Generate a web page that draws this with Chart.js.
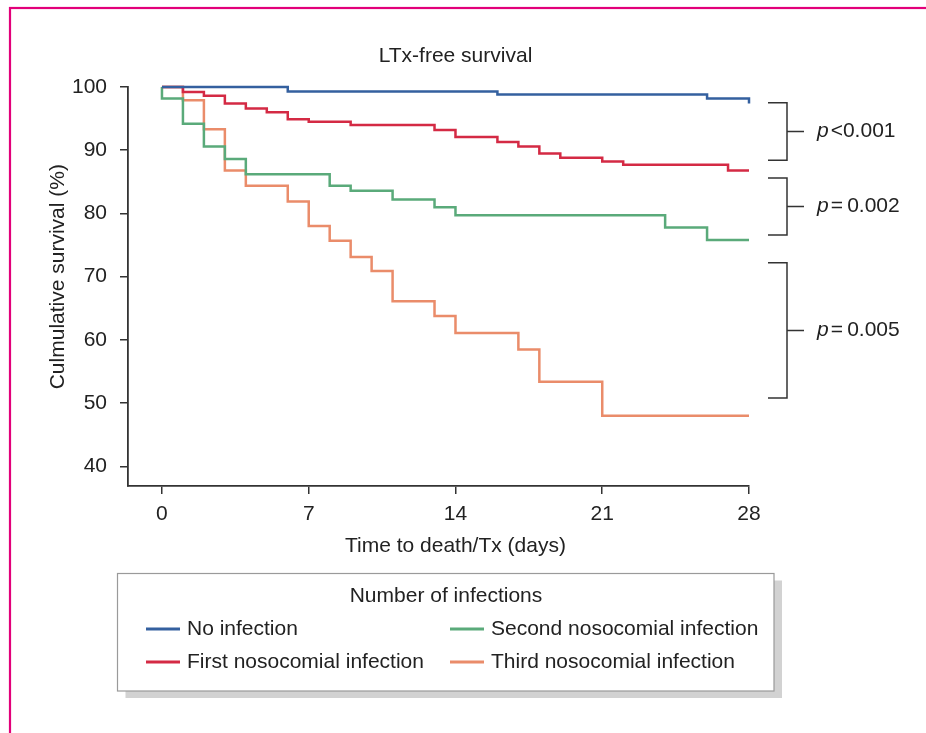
<!DOCTYPE html>
<html>
<head>
<meta charset="utf-8">
<script src="https://cdn.jsdelivr.net/npm/chart.js@4"></script>
<style>
  body { margin: 0; background: #fff; }
  canvas { display: block; }
</style>
</head>
<body>
<canvas id="myChart" width="926" height="733"></canvas>
<script>
// data (days, % survival)
const noInfDays = [0, 6, 16, 26, 28];
const noInfSurv = [100, 99.3, 98.8, 98.2, 97.4];

const firstDays = [0, 1, 2, 3, 4, 5, 6, 7, 9, 13, 14, 16, 17, 18, 19, 21, 22, 27, 28];
const firstSurv = [100, 99.2, 98.6, 97.4, 96.6, 96.0, 94.9, 94.5, 94.0, 93.2, 92.1, 91.3, 90.6, 89.5, 88.8, 88.2, 87.7, 86.8, 86.8];

const secondDays = [0, 0, 1, 2, 3, 4, 8, 9, 11, 13, 14, 24, 26, 28];
const secondSurv = [100, 98.2, 94.2, 90.6, 88.6, 86.2, 84.4, 83.6, 82.2, 81.0, 79.7, 77.8, 75.8, 75.8];

const thirdDays = [0, 1, 2, 3, 4, 6, 7, 8, 9, 10, 11, 13, 14, 17, 18, 21, 28];
const thirdSurv = [100, 97.9, 93.3, 86.8, 84.4, 81.9, 78.0, 75.7, 73.1, 70.9, 66.1, 63.8, 61.1, 58.5, 53.4, 48.0, 48.0];

const seriesNames = ['No infection', 'First nosocomial infection', 'Second nosocomial infection', 'Third nosocomial infection'];
const seriesColors = ['#34609f', '#d42a44', '#5aaa7a', '#ea8c6a'];

const xTicks = [0, 7, 14, 21, 28];
const yTicks = [40, 50, 60, 70, 80, 90, 100];

// p-value brackets: [top, bottom] in % and label
const bracketRanges = [[97.5, 88.4], [85.6, 76.6], [72.2, 50.8]];
const pLabels = ['<0.001', '=\u20090.002', '=\u20090.005'];

const FONT = "'Liberation Sans', Arial, Helvetica, sans-serif";
Chart.defaults.font.family = FONT;
Chart.defaults.color = '#222';

function toPoints(days, surv) {
    return days.map((d, i) => ({ x: d, y: surv[i] }));
}

const allDays = [noInfDays, firstDays, secondDays, thirdDays];
const allSurv = [noInfSurv, firstSurv, secondSurv, thirdSurv];

const datasets = seriesNames.map((name, i) => ({
    label: name,
    data: toPoints(allDays[i], allSurv[i]),
    borderColor: seriesColors[i],
    backgroundColor: seriesColors[i],
    borderWidth: 2.5,
    pointRadius: 0,
    stepped: 'before',
    fill: false,
    clip: false
}));

// all the extra drawing: titles, brackets, legend box, frame
const extras = {
    id: 'extras',
    afterDraw(chart) {
        const ctx = chart.ctx;
        const xs = chart.scales.x;
        const ys = chart.scales.y;
        const area = chart.chartArea;
        ctx.save();

        // pink frame
        ctx.strokeStyle = '#e2007a';
        ctx.lineWidth = 2.2;
        ctx.strokeRect(10, 8, 1000, 1000);

        ctx.fillStyle = '#222';
        ctx.textAlign = 'center';
        ctx.textBaseline = 'middle';
        const midX = (xs.getPixelForValue(0) + xs.getPixelForValue(28)) / 2;

        ctx.font = '21px ' + FONT;
        ctx.fillText('LTx-free survival', midX, 56);
        ctx.fillText('Time to death/Tx (days)', midX, 546);

        ctx.save();
        ctx.translate(58, (ys.getPixelForValue(40) + ys.getPixelForValue(100)) / 2);
        ctx.rotate(-Math.PI / 2);
        ctx.fillText('Culmulative survival (%)', 0, 0);
        ctx.restore();

        // brackets
        ctx.strokeStyle = '#333';
        ctx.lineWidth = 1.5;
        bracketRanges.forEach((r, i) => {
            const top = ys.getPixelForValue(r[0]);
            const bot = ys.getPixelForValue(r[1]);
            const mid = (top + bot) / 2;
            const x0 = area.right + 19;
            const x1 = area.right + 38;
            const x2 = area.right + 55;
            ctx.beginPath();
            ctx.moveTo(x0, top);
            ctx.lineTo(x1, top);
            ctx.lineTo(x1, bot);
            ctx.lineTo(x0, bot);
            ctx.moveTo(x1, mid);
            ctx.lineTo(x2, mid);
            ctx.stroke();

            const tx = area.right + 68;
            ctx.textAlign = 'left';
            ctx.font = 'italic 21px ' + FONT;
            ctx.fillText('p', tx, mid);
            const pw = ctx.measureText('p').width;
            ctx.font = '21px ' + FONT;
            ctx.fillText(pLabels[i], tx + pw + 2, mid);
        });

        // legend box with shadow
        const bx = 117.5, by = 573.5, bw = 656.5, bh = 117.5;
        ctx.fillStyle = '#d2d2d2';
        ctx.fillRect(bx + 8, by + 7, bw, bh);
        ctx.fillStyle = '#fff';
        ctx.fillRect(bx, by, bw, bh);
        ctx.strokeStyle = '#9a9a9a';
        ctx.lineWidth = 1.2;
        ctx.strokeRect(bx, by, bw, bh);

        ctx.fillStyle = '#222';
        ctx.textAlign = 'center';
        ctx.font = '21px ' + FONT;
        ctx.fillText('Number of infections', 446, 596);

        const colX = [146, 450];
        const rowY = [629, 662];
        ctx.textAlign = 'left';
        seriesNames.forEach((name, i) => {
            const cx = colX[Math.floor(i / 2)];
            const cy = rowY[i % 2];
            ctx.strokeStyle = seriesColors[i];
            ctx.lineWidth = 3;
            ctx.beginPath();
            ctx.moveTo(cx, cy);
            ctx.lineTo(cx + 34, cy);
            ctx.stroke();
            ctx.fillStyle = '#222';
            ctx.fillText(name, cx + 41, cy);
        });

        ctx.restore();
    }
};

const ctx = document.getElementById('myChart').getContext('2d');
const myChart = new Chart(ctx, {
    type: 'line',
    data: { datasets: datasets },
    options: {
        responsive: false,
        animation: false,
        layout: { padding: { left: 0, top: 87, right: 177, bottom: 0 } },
        plugins: {
            legend: { display: false },
            tooltip: { enabled: false }
        },
        scales: {
            x: {
                type: 'linear',
                min: -1.62,
                max: 28,
                afterBuildTicks: (scale) => { scale.ticks = xTicks.map(v => ({ value: v })); },
                afterFit: (scale) => { scale.height = 247; },
                grid: { drawOnChartArea: false, drawTicks: true, tickLength: 8, color: '#333', lineWidth: 1.5 },
                border: { display: true, color: '#333', width: 1.8 },
                ticks: { font: { size: 21 }, padding: 8, maxRotation: 0 }
            },
            y: {
                type: 'linear',
                min: 36.9,
                max: 100,
                afterBuildTicks: (scale) => { scale.ticks = yTicks.map(v => ({ value: v })); },
                afterFit: (scale) => { scale.width = 128; },
                grid: { drawOnChartArea: false, drawTicks: true, tickLength: 8, color: '#333', lineWidth: 1.5 },
                border: { display: true, color: '#333', width: 1.8 },
                ticks: { font: { size: 21 }, padding: 13 }
            }
        }
    },
    plugins: [extras]
});
</script>
</body>
</html>
